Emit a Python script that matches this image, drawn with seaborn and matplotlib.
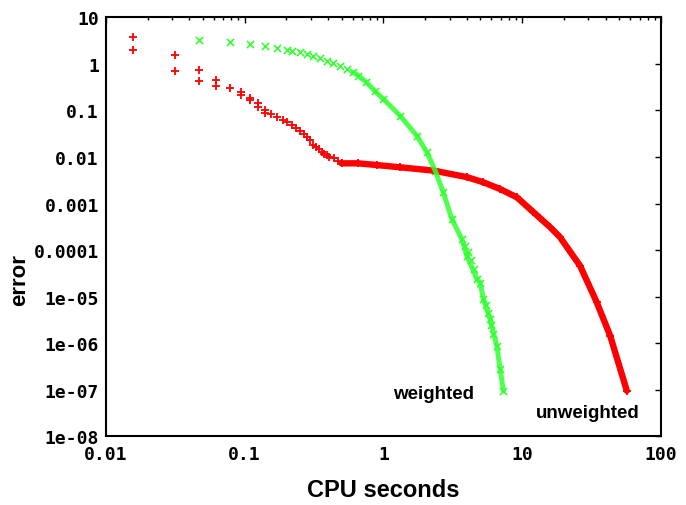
import matplotlib
matplotlib.use("Agg")
import matplotlib.pyplot as plt
import seaborn as sns
import numpy as np
from matplotlib.ticker import FixedLocator, LogLocator, NullFormatter

# ---------------- data ----------------
red_sparse_x = [0.0156, 0.0156, 0.0313, 0.0313, 0.0469, 0.0469, 0.0625, 0.0625,
                0.0781, 0.0938, 0.0938, 0.109, 0.109, 0.125, 0.125, 0.141, 0.141,
                0.156, 0.172, 0.188, 0.203, 0.219, 0.234, 0.25, 0.266, 0.281,
                0.297, 0.313, 0.328, 0.344, 0.359, 0.375, 0.391, 0.406, 0.438,
                0.469, 0.5]
red_sparse_y = [3.8, 2.0, 1.55, 0.71, 0.75, 0.43, 0.45, 0.33,
                0.31, 0.245, 0.218, 0.187, 0.167, 0.142, 0.12, 0.102, 0.087,
                0.083, 0.071, 0.063, 0.056, 0.049, 0.042, 0.0356, 0.031, 0.0273,
                0.023, 0.0184, 0.0165, 0.0148, 0.013, 0.0118, 0.0108, 0.0101, 0.0094,
                0.0082, 0.0073]

red_dense_x = [0.5, 0.66, 0.9, 1.32, 2.29, 3.99, 5.25, 6.93, 9.15, 12.0, 13.5,
               15.9, 18.7, 26.1, 34.4, 43.0, 56.7]
red_dense_y = [0.0073, 0.0073, 0.0067, 0.006, 0.0051, 0.0037, 0.00286, 0.00205,
               0.00136, 6.6e-4, 4.8e-4, 3.1e-4, 1.9e-4, 4.6e-5, 7.6e-6, 1.45e-6, 9.5e-8]

green_x = [0.0469, 0.0781, 0.109, 0.141, 0.172, 0.203, 0.219, 0.25, 0.281, 0.313,
           0.35, 0.39, 0.436, 0.487, 0.545, 0.608, 0.66, 0.75, 0.87, 1.0, 1.32,
           1.74, 2.06, 2.36, 2.70, 3.11, 3.67, 3.99, 4.71, 4.97, 5.26, 5.87, 6.56,
           6.93, 7.32]
green_y = [3.25, 2.95, 2.67, 2.46, 2.22, 1.99, 1.89, 1.77, 1.63, 1.45,
           1.31, 1.17, 1.04, 0.91, 0.78, 0.66, 0.56, 0.41, 0.26, 0.176, 0.077,
           0.0286, 0.0126, 0.0051, 0.00174, 4.7e-4, 1.73e-4, 7.6e-5, 2.4e-5, 2.0e-5,
           8.9e-6, 3.3e-6, 8.8e-7, 2.8e-7, 9.5e-8]

green_noise_x = [3.9, 4.1, 4.3, 4.5, 5.5, 5.7, 5.95, 6.2]
green_noise_y = [1.2e-4, 9.0e-5, 6.0e-5, 4.0e-5, 6.5e-6, 4.5e-6, 2.5e-6, 1.6e-6]

x_ticks = [0.01, 0.1, 1, 10, 100]
x_tick_labels = ["0.01", "0.1", "1", "10", "100"]
y_ticks = [1e-8, 1e-7, 1e-6, 1e-5, 1e-4, 1e-3, 1e-2, 1e-1, 1, 10]
y_tick_labels = ["1e-08", "1e-07", "1e-06", "1e-05", "0.0001", "0.001",
                 "0.01", "0.1", "1", "10"]

label_weighted = "weighted"
label_unweighted = "unweighted"

# ---------------- figure ----------------
sns.set_theme(style="white")
plt.rcParams["font.family"] = ["DejaVu Sans"]
plt.rcParams["text.color"] = "black"
plt.rcParams["axes.labelcolor"] = "black"

fig = plt.figure(figsize=(6.86, 5.06), dpi=100)
ax = fig.add_axes([0.1541, 0.1358, 0.8095, 0.8280])

RED = "#ff0000"
GREEN = "#33ff33"

# unweighted: dense thick part + sparse "+" markers
sns.lineplot(x=red_dense_x, y=red_dense_y, ax=ax, color=RED, linewidth=4.6,
             sort=False, estimator=None, solid_capstyle="round")
sns.scatterplot(x=red_dense_x, y=red_dense_y, ax=ax, marker="+", color=RED,
                s=30, linewidth=1.3)
sns.scatterplot(x=red_sparse_x, y=red_sparse_y, ax=ax, marker="+", color=RED,
                s=30, linewidth=1.3)

# weighted: band of "x" markers
gx = np.array(green_x)
mask = gx >= 0.6
sns.lineplot(x=gx[mask], y=np.array(green_y)[mask], ax=ax, color=GREEN,
             linewidth=3.6, sort=False, estimator=None, alpha=0.85,
             solid_capstyle="round")
sns.scatterplot(x=green_x, y=green_y, ax=ax, marker="x", color=GREEN,
                s=26, linewidth=1.2)
sns.scatterplot(x=green_noise_x, y=green_noise_y, ax=ax, marker="x", color=GREEN,
                s=26, linewidth=1.2)

ax.set_xscale("log")
ax.set_yscale("log")
ax.set_xlim(0.01, 100)
ax.set_ylim(1e-8, 10)

ax.xaxis.set_major_locator(FixedLocator(x_ticks))
ax.set_xticklabels(x_tick_labels)
ax.yaxis.set_major_locator(FixedLocator(y_ticks))
ax.set_yticklabels(y_tick_labels)
ax.xaxis.set_minor_locator(LogLocator(base=10, subs=np.arange(2, 10)))
ax.yaxis.set_minor_locator(LogLocator(base=10, subs=(2, 5)))
ax.xaxis.set_minor_formatter(NullFormatter())
ax.yaxis.set_minor_formatter(NullFormatter())

ax.tick_params(axis="both", which="both", direction="in", top=True, right=True,
               colors="black", labelcolor="black", width=1.0)
ax.tick_params(axis="both", which="major", length=4.5, labelsize=13)
ax.tick_params(axis="both", which="minor", length=2.5)
ax.tick_params(axis="x", which="major", pad=6)
ax.tick_params(axis="y", which="major", pad=5)
for lab in ax.get_xticklabels() + ax.get_yticklabels():
    lab.set_family(["DejaVu Sans Mono"])
    lab.set_fontweight("bold")

for sp in ax.spines.values():
    sp.set_color("black")
    sp.set_linewidth(1.5)
ax.grid(False)
ax.set_facecolor("white")

ax.set_xlabel("CPU seconds", fontsize=17, fontweight="bold", color="black",
              family=["Liberation Sans", "DejaVu Sans"])
ax.set_ylabel("error", fontsize=16, fontweight="bold", color="black",
              family=["Liberation Sans", "DejaVu Sans"])
ax.xaxis.set_label_coords(0.5, -0.100)
ax.yaxis.set_label_coords(-0.136, 0.375)

ax.text(2.28, 8.1e-8, label_weighted, fontsize=13.5, fontweight="bold",
        color="black", ha="center", va="center",
        family=["Liberation Sans", "DejaVu Sans"])
ax.text(29.9, 3.3e-8, label_unweighted, fontsize=13.5, fontweight="bold",
        color="black", ha="center", va="center",
        family=["Liberation Sans", "DejaVu Sans"])

fig.savefig("out.png", dpi=100, facecolor="white")
